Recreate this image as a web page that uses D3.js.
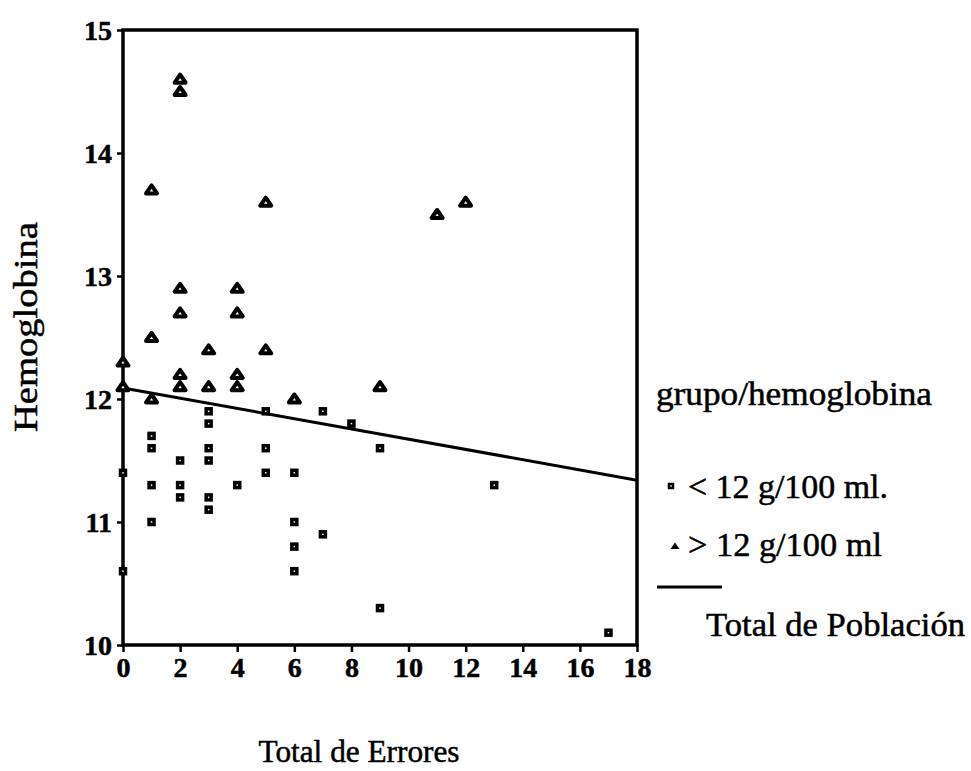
<!DOCTYPE html>
<html>
<head>
<meta charset="utf-8">
<script src="https://cdn.jsdelivr.net/npm/d3@7"></script>
<style>
  body { margin: 0; background: #fff; }
  text { font-family: "Liberation Serif", "Times New Roman", "DejaVu Serif", serif; fill: #000; stroke: #000; stroke-width: 0.5px; }
</style>
</head>
<body>
<svg id="chart" width="971" height="771"></svg>
<script>
// <12 g/100 ml group
var lowX = [0, 0, 1, 1, 1, 1, 2, 2, 2, 3, 3, 3, 3, 3, 3, 4, 5, 5, 5, 6, 6, 6, 6, 7, 7, 8, 9, 9, 13, 17];
var lowY = [11.4, 10.6, 11.7, 11.6, 11.3, 11.0, 11.5, 11.3, 11.2, 11.9, 11.8, 11.6, 11.5, 11.2, 11.1, 11.3,
            11.9, 11.6, 11.4, 11.4, 11.0, 10.8, 10.6, 11.9, 10.9, 11.8, 11.6, 10.3, 11.3, 10.1];
// >12 g/100 ml group
var highX = [0, 0, 1, 1, 1, 2, 2, 2, 2, 2, 2, 3, 3, 4, 4, 4, 4, 5, 5, 6, 9, 11, 12];
var highY = [12.3, 12.1, 13.7, 12.5, 12.0, 14.6, 14.5, 12.9, 12.7, 12.2, 12.1, 12.4, 12.1,
             12.9, 12.7, 12.2, 12.1, 13.6, 12.4, 12.0, 12.1, 13.5, 13.6];
// total population fit
var lineX = [0, 18];
var lineY = [12.09, 11.34];
var xTicks = [0, 2, 4, 6, 8, 10, 12, 14, 16, 18];
var yTicks = [10, 11, 12, 13, 14, 15];

window.onload = function start() {
    drawChart();
}

function drawChart() {
    var svg = d3.select("#chart");
    var pl = 123, pr = 637, pt = 30, pb = 645;

    var x = d3.scaleLinear().domain([0, 18]).range([pl, pr]);
    var y = d3.scaleLinear().domain([10, 15]).range([pb, pt]);

    var triangle = "M0,-4.5L5.5,3.5L-5.5,3.5Z";

    // axes
    var xAxis = svg.append("g")
        .attr("transform", "translate(0," + pb + ")")
        .call(d3.axisBottom(x).tickValues(xTicks).tickFormat(d3.format("d"))
              .tickSize(7).tickSizeOuter(0).tickPadding(5));
    var yAxis = svg.append("g")
        .attr("transform", "translate(" + pl + ",0)")
        .call(d3.axisLeft(y).tickValues(yTicks).tickFormat(d3.format("d"))
              .tickSize(6).tickSizeOuter(0).tickPadding(5));

    [xAxis, yAxis].forEach(function(a) {
        a.select(".domain").remove();
        a.attr("font-family", null).attr("font-size", null);
        a.selectAll(".tick line").attr("stroke", "#000").attr("stroke-width", 2.5);
        a.selectAll(".tick text")
          .attr("fill", "#000")
          .style("font-weight", "bold")
          .style("font-size", "28px");
    });
    yAxis.selectAll(".tick text").attr("dy", "0.34em");
    xAxis.selectAll(".tick text").attr("dy", "0.7em");

    // frame
    svg.append("rect")
        .attr("x", pl).attr("y", pt)
        .attr("width", pr - pl).attr("height", pb - pt)
        .attr("fill", "none").attr("stroke", "#000").attr("stroke-width", 3.5);

    // regression line
    svg.append("line")
        .attr("x1", x(lineX[0])).attr("y1", y(lineY[0]))
        .attr("x2", x(lineX[1])).attr("y2", y(lineY[1]))
        .attr("stroke", "#000").attr("stroke-width", 3);

    // points
    svg.selectAll(".low")
        .data(lowX.map(function(d, i) { return [d, lowY[i]]; }))
        .enter().append("rect")
        .attr("class", "low")
        .attr("x", function(d) { return x(d[0]) - 2.5; })
        .attr("y", function(d) { return y(d[1]) - 2.5; })
        .attr("width", 5).attr("height", 5)
        .attr("fill", "#fff").attr("stroke", "#000").attr("stroke-width", 3.5);

    svg.selectAll(".high")
        .data(highX.map(function(d, i) { return [d, highY[i]]; }))
        .enter().append("path")
        .attr("class", "high")
        .attr("d", triangle)
        .attr("transform", function(d) { return "translate(" + x(d[0]) + "," + y(d[1]) + ")"; })
        .attr("fill", "#fff").attr("stroke", "#000").attr("stroke-width", 4)
        .attr("stroke-linejoin", "round");

    // axis titles
    svg.append("text")
        .attr("x", 359).attr("y", 762)
        .attr("text-anchor", "middle")
        .attr("textLength", 201).attr("lengthAdjust", "spacingAndGlyphs")
        .style("font-size", "31px")
        .text("Total de Errores");

    svg.append("text")
        .attr("transform", "translate(37,327) rotate(-90)")
        .attr("text-anchor", "middle")
        .attr("textLength", 210).attr("lengthAdjust", "spacingAndGlyphs")
        .style("font-size", "34px")
        .text("Hemoglobina");

    // legend
    var legend = svg.append("g");
    legend.append("text").attr("x", 656).attr("y", 405)
        .attr("textLength", 276).attr("lengthAdjust", "spacingAndGlyphs")
        .style("font-size", "33px").text("grupo/hemoglobina");

    legend.append("rect").attr("x", 669).attr("y", 484).attr("width", 4).attr("height", 4)
        .attr("fill", "#fff").attr("stroke", "#000").attr("stroke-width", 2.5);
    legend.append("text").attr("x", 688).attr("y", 498)
        .attr("textLength", 200).attr("lengthAdjust", "spacingAndGlyphs")
        .style("font-size", "33px").text("< 12 g/100 ml.");

    legend.append("path").attr("d", "M0,-3.5L4.5,3L-4.5,3Z")
        .attr("transform", "translate(675,546)")
        .attr("fill", "#000");
    legend.append("text").attr("x", 688).attr("y", 556)
        .attr("textLength", 194).attr("lengthAdjust", "spacingAndGlyphs")
        .style("font-size", "33px").text("> 12 g/100 ml");

    legend.append("line").attr("x1", 657).attr("x2", 722).attr("y1", 587).attr("y2", 587)
        .attr("stroke", "#000").attr("stroke-width", 3);
    legend.append("text").attr("x", 706).attr("y", 636)
        .attr("textLength", 259).attr("lengthAdjust", "spacingAndGlyphs")
        .style("font-size", "33px").text("Total de Población");
}
</script>
</body>
</html>
